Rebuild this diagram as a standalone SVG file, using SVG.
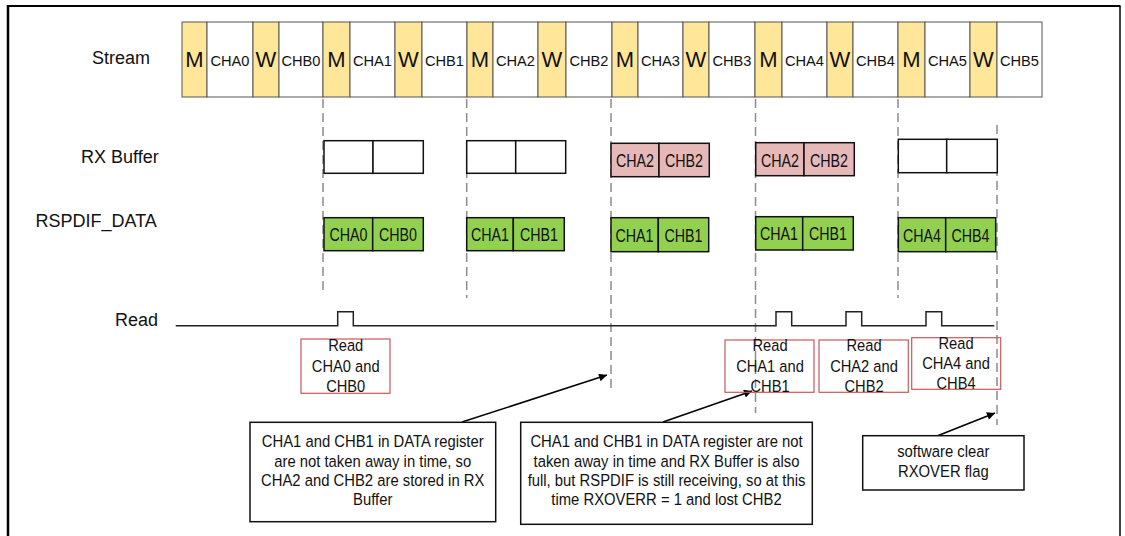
<svg xmlns="http://www.w3.org/2000/svg" width="1125" height="536" viewBox="0 0 1125 536">
<defs>
<marker id="ah" viewBox="0 0 10 10" refX="10" refY="5" markerWidth="10" markerHeight="8" markerUnits="userSpaceOnUse" orient="auto"><path d="M0,0 L10,5 L0,10 z" fill="#000"/></marker>
<style>
text{font-family:"Liberation Sans",Arial,sans-serif;fill:#111}
.lbl{font-size:18px}
.mw{font-size:22px;text-anchor:middle}
.cs{font-size:15.5px;text-anchor:middle}
.bt{font-size:19px;text-anchor:middle}
.rt{font-size:16.5px;text-anchor:middle}
.ct{font-size:16.3px;text-anchor:middle}
.y{fill:#ffe699;stroke:#555;stroke-width:1}
.w{fill:#fff;stroke:#555;stroke-width:1}
.buf{fill:#fff;stroke:#111;stroke-width:1.5}
.pk{fill:#e6b9b8;stroke:#111;stroke-width:1.5}
.gr{fill:#92d050;stroke:#111;stroke-width:1.5}
.rb{fill:none;stroke:#c9585a;stroke-width:1.2}
.cb{fill:#fff;stroke:#111;stroke-width:1.5}
.dash{stroke:#8c8c8c;stroke-width:1.5;stroke-dasharray:9 5;fill:none}
.arr{stroke:#000;stroke-width:1.5;fill:none;marker-end:url(#ah)}
</style>
</defs>
<rect width="1125" height="536" fill="#fff"/>
<g id="frame" fill="none" stroke="#000">
<path d="M8,5 V540" stroke-width="2.5"/>
<path d="M7,6 H1120.5" stroke-width="1.8"/>
<path d="M1120,6 V540" stroke-width="1.5"/>
</g>
<g id="labels">
<text class="lbl" x="92" y="64">Stream</text>
<text class="lbl" x="81" y="163">RX Buffer</text>
<text class="lbl" x="35.5" y="226.5">RSPDIF_DATA</text>
<text class="lbl" x="115" y="326">Read</text>
</g>
<g id="stream">
<rect class="y" x="182" y="22" width="25" height="75"/><rect class="w" x="207" y="22" width="46" height="75"/><rect class="y" x="253" y="22" width="26" height="75"/><rect class="w" x="279" y="22" width="44" height="75"/>
<rect class="y" x="323" y="22" width="27" height="75"/><rect class="w" x="350" y="22" width="45" height="75"/><rect class="y" x="395" y="22" width="27" height="75"/><rect class="w" x="422" y="22" width="45" height="75"/>
<rect class="y" x="467" y="22" width="26" height="75"/><rect class="w" x="493" y="22" width="45" height="75"/><rect class="y" x="538" y="22" width="28" height="75"/><rect class="w" x="566" y="22" width="46" height="75"/>
<rect class="y" x="612" y="22" width="26" height="75"/><rect class="w" x="638" y="22" width="45" height="75"/><rect class="y" x="683" y="22" width="26" height="75"/><rect class="w" x="709" y="22" width="46" height="75"/>
<rect class="y" x="755" y="22" width="27" height="75"/><rect class="w" x="782" y="22" width="45" height="75"/><rect class="y" x="827" y="22" width="26" height="75"/><rect class="w" x="853" y="22" width="45" height="75"/>
<rect class="y" x="898" y="22" width="27" height="75"/><rect class="w" x="925" y="22" width="45" height="75"/><rect class="y" x="970" y="22" width="27" height="75"/><rect class="w" x="997" y="22" width="45" height="75"/>
<text class="mw" x="194.5" y="67">M</text><text class="cs" x="230" y="66" textLength="39" lengthAdjust="spacingAndGlyphs">CHA0</text><text class="mw" x="266" y="67">W</text><text class="cs" x="301" y="66" textLength="39" lengthAdjust="spacingAndGlyphs">CHB0</text>
<text class="mw" x="336.5" y="67">M</text><text class="cs" x="372.5" y="66" textLength="39" lengthAdjust="spacingAndGlyphs">CHA1</text><text class="mw" x="408.5" y="67">W</text><text class="cs" x="444.5" y="66" textLength="39" lengthAdjust="spacingAndGlyphs">CHB1</text>
<text class="mw" x="480" y="67">M</text><text class="cs" x="515.5" y="66" textLength="39" lengthAdjust="spacingAndGlyphs">CHA2</text><text class="mw" x="552" y="67">W</text><text class="cs" x="589" y="66" textLength="39" lengthAdjust="spacingAndGlyphs">CHB2</text>
<text class="mw" x="625" y="67">M</text><text class="cs" x="660.5" y="66" textLength="39" lengthAdjust="spacingAndGlyphs">CHA3</text><text class="mw" x="696" y="67">W</text><text class="cs" x="732" y="66" textLength="39" lengthAdjust="spacingAndGlyphs">CHB3</text>
<text class="mw" x="768.5" y="67">M</text><text class="cs" x="804.5" y="66" textLength="39" lengthAdjust="spacingAndGlyphs">CHA4</text><text class="mw" x="840" y="67">W</text><text class="cs" x="875.5" y="66" textLength="39" lengthAdjust="spacingAndGlyphs">CHB4</text>
<text class="mw" x="911.5" y="67">M</text><text class="cs" x="947.5" y="66" textLength="39" lengthAdjust="spacingAndGlyphs">CHA5</text><text class="mw" x="983.5" y="67">W</text><text class="cs" x="1019.5" y="66" textLength="39" lengthAdjust="spacingAndGlyphs">CHB5</text>
</g>
<g id="connectors">
<path class="dash" d="M323,99 V293"/>
<path class="dash" d="M466.7,99 V298"/>
<path class="dash" d="M611,99 V393"/>
<path class="dash" d="M755.5,99 V413"/>
<path class="dash" d="M898,99 V298"/>
<path class="dash" d="M997,125 V425"/>
<path id="read-signal" d="M175.7,325.7 H337.7 V311.7 H353.3 V325.7 H776 V311.7 H791.7 V325.7 H846 V311.7 H861.7 V325.7 H926 V311.7 H941.7 V325.7 H994.3" fill="none" stroke="#222" stroke-width="1.5"/>
<path class="arr" d="M462,422 L607,375"/>
<path class="arr" d="M663,422 L752,391"/>
<path class="arr" d="M937,436 L995,413"/>
</g>
<g id="rxbuf1"><rect class="buf" x="324" y="140.7" width="49" height="32.6"/><rect class="buf" x="373" y="140.7" width="50.3" height="32.6"/></g>
<g id="rxbuf2"><rect class="buf" x="466.7" y="140.7" width="49" height="32.6"/><rect class="buf" x="515.7" y="140.7" width="50" height="32.6"/></g>
<g id="rxbuf3"><rect class="pk" x="611" y="143.3" width="48" height="33.4"/><rect class="pk" x="659" y="143.3" width="50.3" height="33.4"/><text class="bt" x="635" y="167" textLength="38" lengthAdjust="spacingAndGlyphs">CHA2</text><text class="bt" x="684" y="167" textLength="38" lengthAdjust="spacingAndGlyphs">CHB2</text></g>
<g id="rxbuf4"><rect class="pk" x="755.7" y="142.7" width="48.3" height="33"/><rect class="pk" x="804" y="142.7" width="50.3" height="33"/><text class="bt" x="780" y="166.5" textLength="38" lengthAdjust="spacingAndGlyphs">CHA2</text><text class="bt" x="829" y="166.5" textLength="38" lengthAdjust="spacingAndGlyphs">CHB2</text></g>
<g id="rxbuf5"><rect class="buf" x="898.3" y="139.3" width="48.4" height="33.4"/><rect class="buf" x="946.7" y="139.3" width="50.6" height="33.4"/></g>
<g id="data1"><rect class="gr" x="324" y="217.7" width="48.7" height="33"/><rect class="gr" x="372.7" y="217.7" width="50.6" height="33"/><text class="bt" x="348.5" y="241" textLength="38" lengthAdjust="spacingAndGlyphs">CHA0</text><text class="bt" x="398" y="241" textLength="38" lengthAdjust="spacingAndGlyphs">CHB0</text></g>
<g id="data2"><rect class="gr" x="466.7" y="217.7" width="46.6" height="33"/><rect class="gr" x="513.3" y="217.7" width="51" height="33"/><text class="bt" x="490" y="241" textLength="38" lengthAdjust="spacingAndGlyphs">CHA1</text><text class="bt" x="539" y="241" textLength="38" lengthAdjust="spacingAndGlyphs">CHB1</text></g>
<g id="data3"><rect class="gr" x="611" y="217.7" width="47.3" height="34"/><rect class="gr" x="658.3" y="217.7" width="50.4" height="34"/><text class="bt" x="634.5" y="241.5" textLength="38" lengthAdjust="spacingAndGlyphs">CHA1</text><text class="bt" x="683.5" y="241.5" textLength="38" lengthAdjust="spacingAndGlyphs">CHB1</text></g>
<g id="data4"><rect class="gr" x="755.7" y="216.7" width="47" height="33.3"/><rect class="gr" x="802.7" y="216.7" width="50.6" height="33.3"/><text class="bt" x="779" y="240" textLength="38" lengthAdjust="spacingAndGlyphs">CHA1</text><text class="bt" x="828" y="240" textLength="38" lengthAdjust="spacingAndGlyphs">CHB1</text></g>
<g id="data5"><rect class="gr" x="898.3" y="217.7" width="47.4" height="34"/><rect class="gr" x="945.7" y="217.7" width="50" height="34"/><text class="bt" x="922" y="241.5" textLength="38" lengthAdjust="spacingAndGlyphs">CHA4</text><text class="bt" x="970.5" y="241.5" textLength="38" lengthAdjust="spacingAndGlyphs">CHB4</text></g>
<g id="read1"><rect class="rb" x="301" y="339" width="89" height="54.3"/><g transform="translate(345.7,0) scale(0.89,1)"><text class="rt" x="0" y="351">Read</text><text class="rt" x="0" y="371.7">CHA0 and</text><text class="rt" x="0" y="392.3">CHB0</text></g></g>
<g id="read2"><rect class="rb" x="725" y="340" width="89" height="52.3"/><g transform="translate(770,0) scale(0.89,1)"><text class="rt" x="0" y="351">Read</text><text class="rt" x="0" y="371.7">CHA1 and</text><text class="rt" x="0" y="391.7">CHB1</text></g></g>
<g id="read3"><rect class="rb" x="819" y="340" width="89.3" height="52.3"/><g transform="translate(864,0) scale(0.89,1)"><text class="rt" x="0" y="351">Read</text><text class="rt" x="0" y="371.7">CHA2 and</text><text class="rt" x="0" y="391.7">CHB2</text></g></g>
<g id="read4"><rect class="rb" x="911.7" y="337.7" width="89" height="51.6"/><g transform="translate(956,0) scale(0.89,1)"><text class="rt" x="0" y="349">Read</text><text class="rt" x="0" y="369.3">CHA4 and</text><text class="rt" x="0" y="389.3">CHB4</text></g></g>
<g id="note1"><rect class="cb" x="250" y="422.3" width="245.7" height="99.4"/><g transform="translate(372.7,0) scale(0.91,1)"><text class="ct" x="0" y="447.3">CHA1 and CHB1 in DATA register</text><text class="ct" x="0" y="466.7">are not taken away in time, so</text><text class="ct" x="0" y="486">CHA2 and CHB2 are stored in RX</text><text class="ct" x="0" y="505">Buffer</text></g></g>
<g id="note2"><rect class="cb" x="520.7" y="422.3" width="291.6" height="102"/><g transform="translate(666.5,0) scale(0.91,1)"><text class="ct" x="0" y="447.3">CHA1 and CHB1 in DATA register are not</text><text class="ct" x="0" y="466.7">taken away in time and RX Buffer is also</text><text class="ct" x="0" y="486">full, but RSPDIF is still receiving, so at this</text><text class="ct" x="0" y="505">time RXOVERR = 1 and lost CHB2</text></g></g>
<g id="note3"><rect class="cb" x="862.7" y="435.7" width="161.3" height="54.3"/><g transform="translate(943.3,0) scale(0.91,1)"><text class="ct" x="0" y="457.5">software clear</text><text class="ct" x="0" y="477">RXOVER flag</text></g></g>
</svg>
